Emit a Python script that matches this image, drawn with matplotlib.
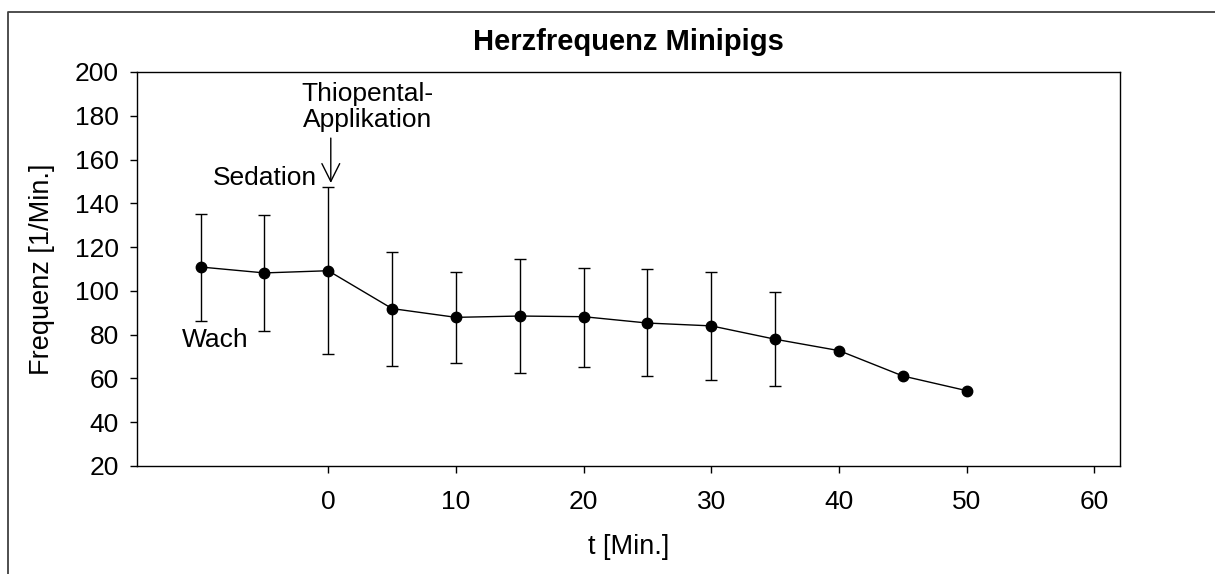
import numpy as np
import matplotlib
matplotlib.use("Agg")
import matplotlib.pyplot as plt
from matplotlib.lines import Line2D

plt.rcParams["font.family"] = ["Liberation Sans", "DejaVu Sans"]

# Messzeitpunkte (Min.) und Herzfrequenz (1/Min.)
zeit = [-10, -5, 0, 5, 10, 15, 20, 25, 30, 35, 40, 45, 50]
frequenz = [110.9, 108.2, 109.2, 91.9, 87.9, 88.5, 88.2, 85.3, 84.0, 77.9, 72.7, 61.1, 54.4]
fehler_oben = [135.3, 134.7, 147.3, 117.8, 108.8, 114.4, 110.6, 109.8, 108.6, 99.5, None, None, None]
fehler_unten = [86.2, 81.7, 71.2, 65.8, 67.0, 62.6, 65.4, 61.1, 59.3, 56.4, None, None, None]

x_ticks = [0, 10, 20, 30, 40, 50, 60]
y_ticks = [20, 40, 60, 80, 100, 120, 140, 160, 180, 200]

fig = plt.figure(figsize=(12.15, 5.74), dpi=100)
ax = fig.add_axes([0.1125, 0.1882, 0.8093, 0.6864])

# Fehlerbalken nur dort, wo vorhanden
idx = [i for i, v in enumerate(fehler_oben) if v is not None]
ex = [zeit[i] for i in idx]
ey = [frequenz[i] for i in idx]
err_lo = [frequenz[i] - fehler_unten[i] for i in idx]
err_hi = [fehler_oben[i] - frequenz[i] for i in idx]
ax.errorbar(ex, ey, yerr=[err_lo, err_hi], fmt="none", ecolor="black",
            elinewidth=1.0, capsize=4.5, capthick=1.0, zorder=2)
ax.plot(zeit, frequenz, color="black", lw=1.0, marker="o", ms=7.5,
        markerfacecolor="black", zorder=3)

ax.set_xlim(-15, 62)
ax.set_ylim(20, 200)
ax.set_xticks(x_ticks)
ax.set_yticks(y_ticks)
ax.tick_params(direction="out", length=5, width=1.0, labelsize=19)
ax.tick_params(axis="x", pad=12)
ax.tick_params(axis="y", pad=8)
for s in ax.spines.values():
    s.set_linewidth(1.0)

ax.set_xlabel("t [Min.]", fontsize=19.5)
ax.xaxis.set_label_coords(0.5, -0.172)
ax.set_ylabel("Frequenz [1/Min.]", fontsize=19.5)
ax.yaxis.set_label_coords(-0.083, 0.5)

ax.text(0.5, 1.076, "Herzfrequenz Minipigs", transform=ax.transAxes,
        ha="center", va="center", fontsize=21, fontweight="bold")

# Beschriftungen
ax.text(3.1, 184.0, "Thiopental-\nApplikation", ha="center", va="center",
        fontsize=19, linespacing=1.15)
ax.text(-4.96, 151.6, "Sedation", ha="center", va="center", fontsize=19)
ax.text(-8.87, 77.6, "Wach", ha="center", va="center", fontsize=19)
ax.annotate("", xy=(0.2, 149.3), xytext=(0.2, 169.8),
            arrowprops=dict(arrowstyle="->", color="black", lw=1.0,
                            mutation_scale=32, shrinkA=0, shrinkB=0))

# Rahmen um die Grafik (links und oben)
x0 = 8 / 1215
y0 = 1 - 12 / 574
fig.add_artist(Line2D([x0, x0, 1.01], [-0.01, y0, y0],
                      transform=fig.transFigure, color="#404040", lw=1.3))

fig.savefig("out.png", dpi=100)
